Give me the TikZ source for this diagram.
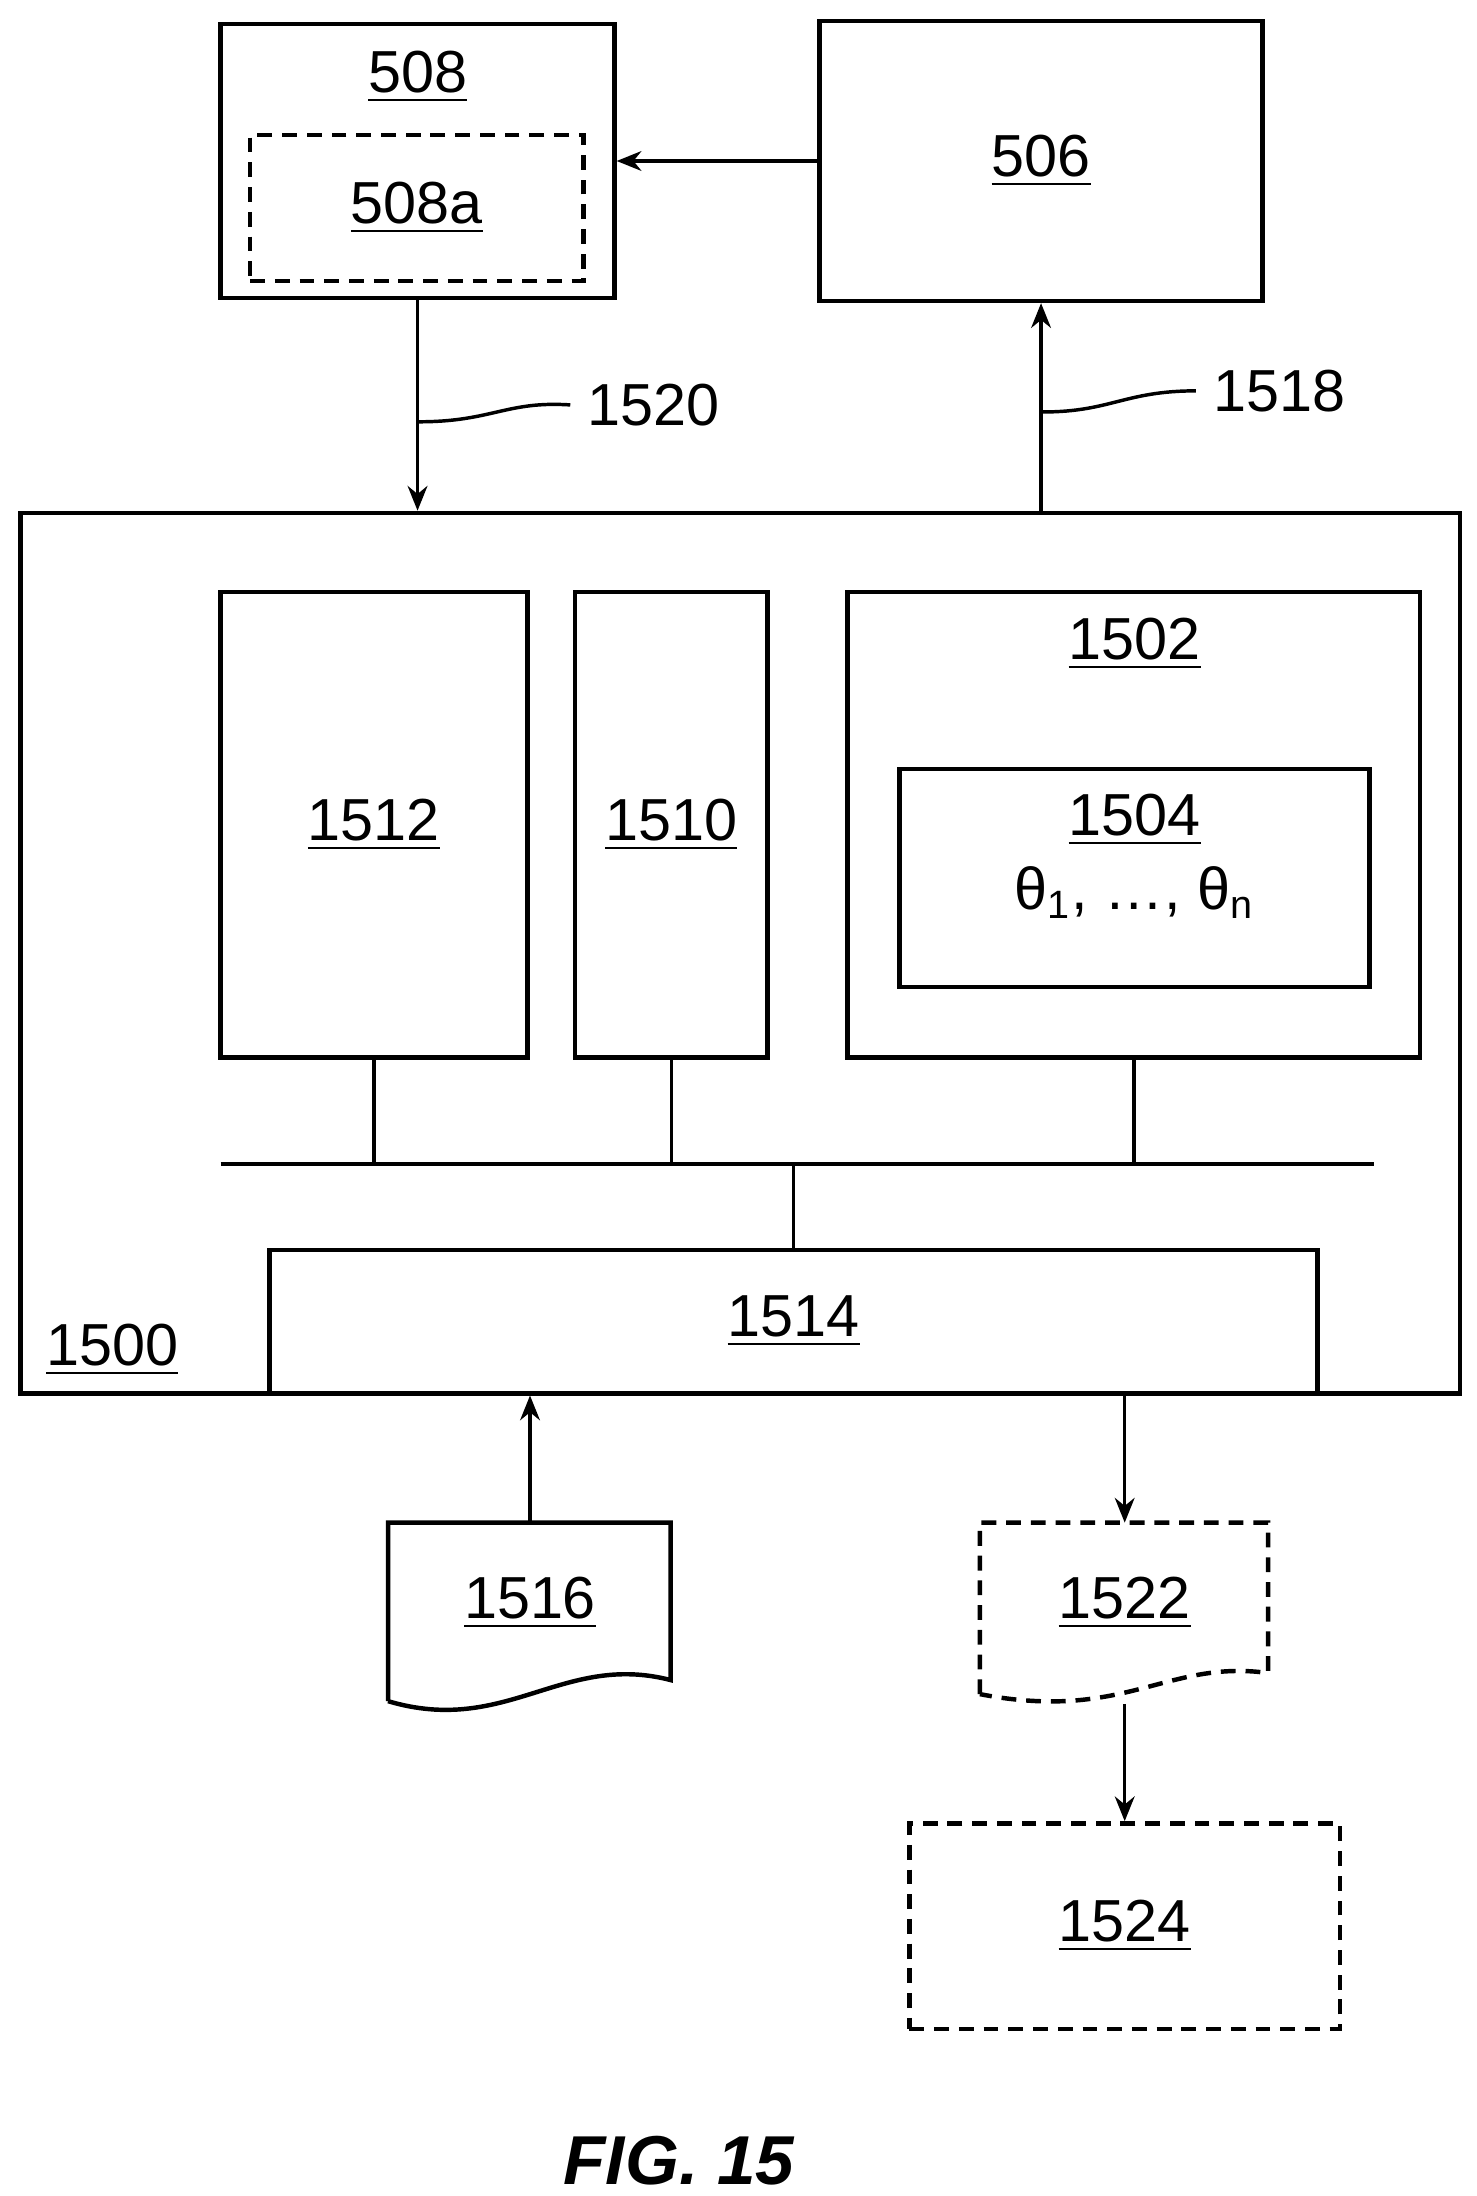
\documentclass[tikz,border=0pt]{standalone}
\usepackage{fontspec}
\setmainfont{Liberation Sans}
\usetikzlibrary{arrows.meta,positioning}

\tikzset{
  box/.style={draw, line width=0.9pt, inner sep=0pt},
  dbox/.style={box, dashed, dash pattern=on 3pt off 2pt},
  link/.style={line width=0.7pt},
  arr/.style={link, -{Stealth[length=5pt,width=4pt]}},
  lbl/.style={font=\fontsize{12}{14}\selectfont}
}

\begin{document}
\begin{tikzpicture}[x=0.01cm,y=-0.01cm]
        \useasboundingbox (0,0) rectangle (1050,1562);
        % Top boxes
        \node[box, minimum width=2.80cm, minimum height=1.95cm] (b508) at (297,114.5) {};
        \node[lbl] at (297,55) {\underline{508}};
        \node[dbox, minimum width=2.37cm, minimum height=1.04cm, lbl] (b508a) at (296.5,148) {\underline{508a}};
        \node[box, minimum width=3.15cm, minimum height=1.99cm, lbl] (b506) at (740.5,114.5) {\underline{506}};
        \draw[arr] (b506.west) -- (b508.east);
        % Outer system box
        \node[box, minimum width=10.23cm, minimum height=6.26cm] (b1500) at (526.5,678) {};
        \node[lbl] at (80,960) {\underline{1500}};
        \draw[arr] (b508.south) -- (b508.south |- b1500.north);
        \draw[arr] (b506.south |- b1500.north) -- (b506.south);
        % Labels with leaders
        \node[lbl] (l1520) at (465,288) {1520};
        \draw[link] (298,300) .. controls (350,300) and (360,285) .. (l1520.west);
        \node[lbl] (l1518) at (910,278) {1518};
        \draw[link] (742,293) .. controls (790,293) and (800,278) .. (l1518.west);
        % Inner blocks
        \node[box, minimum width=2.18cm, minimum height=3.31cm, lbl] (b1512) at (266,586.5) {\underline{1512}};
        \node[box, minimum width=1.37cm, minimum height=3.31cm, lbl] (b1510) at (477.5,586.5) {\underline{1510}};
        \node[box, minimum width=4.07cm, minimum height=3.31cm] (b1502) at (806.5,586.5) {};
        \node[lbl] at (807,458) {\underline{1502}};
        \node[box, minimum width=3.34cm, minimum height=1.55cm] (b1504) at (807,624.5) {};
        \node[lbl] at (807,583) {\underline{1504}};
        \node[lbl] at (807,635) {θ\textsubscript{1}, …, θ\textsubscript{n}};
        \node[box, minimum width=7.45cm, minimum height=1.02cm, lbl] (b1514) at (564.5,940) {\underline{1514}};
        % Bus
        \coordinate (busL) at (157,828);
        \coordinate (busR) at (977,828);
        \draw[link] (busL) -- (busR);
        \draw[link] (b1512.south) -- (b1512.south |- busL);
        \draw[link] (b1510.south) -- (b1510.south |- busL);
        \draw[link] (b1502.south) -- (b1502.south |- busL);
        \draw[link] (b1514.north) -- (b1514.north |- busL);
        % Input document
        \coordinate (d1516) at (377,1083);
        \draw[box] (276,1210) -- (276,1083) -- (477,1083) -- (477,1195)
              .. controls (400,1175) and (360,1235) .. (276,1210);
        \node[lbl] at (377,1140) {\underline{1516}};
        \draw[arr] (d1516) -- (d1516 |- b1514.south);
        % Output document
        \coordinate (d1522) at (800,1083);
        \coordinate (d1522b) at (800,1212);
        \draw[dbox] (697,1205) -- (697,1083) -- (902,1083) -- (902,1190)
              .. controls (830,1180) and (800,1225) .. (697,1205);
        \node[lbl] at (800,1140) {\underline{1522}};
        \draw[arr] (d1522 |- b1514.south) -- (d1522);
        \node[dbox, minimum width=3.06cm, minimum height=1.46cm, lbl] (b1524) at (800,1370) {\underline{1524}};
        \draw[arr] (d1522b) -- (b1524.north);
        % Caption
        \node[font=\fontsize{14}{16}\selectfont\bfseries\itshape] at (483,1537) {FIG. 15};
\end{tikzpicture}
\end{document}
